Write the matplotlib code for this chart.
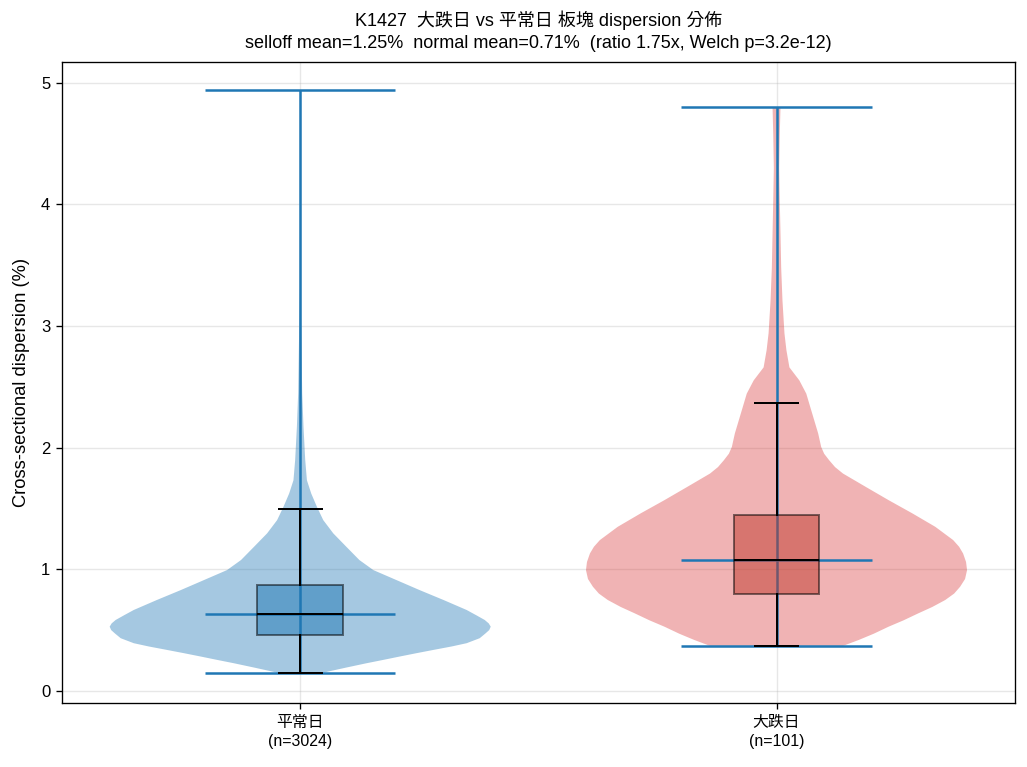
import numpy as np
import matplotlib
matplotlib.use("Agg")
import matplotlib.pyplot as plt

plt.rcParams["font.family"] = ["Liberation Sans", "Noto Sans CJK TC", "DejaVu Sans"]

# group labels
groups = ["平常日", "大跌日"]
counts = [3024, 101]

# violin outlines: y (%) and relative half-width
normal_y = [0.15, 0.19, 0.227, 0.255, 0.282, 0.31, 0.337, 0.365, 0.392, 0.433,
            0.474, 0.50, 0.528, 0.555, 0.583, 0.62, 0.665, 0.747, 0.829, 0.911,
            0.993, 1.076, 1.185, 1.295, 1.404, 1.513, 1.623, 1.732, 1.90, 2.17,
            2.45, 2.99, 3.30, 4.94]
normal_w = [23, 45, 66, 83, 99, 116, 133, 151, 166, 179,
            185, 188.5, 190, 188, 184, 176, 166, 143, 119, 96,
            73, 59, 46, 33, 23, 16.7, 11, 6.7, 5, 3.3,
            2, 1, 0.3, 0.0]
selloff_y = [0.37, 0.419, 0.47, 0.528, 0.58, 0.638, 0.69, 0.747, 0.80, 0.856,
             0.92, 0.993, 1.06, 1.130, 1.185, 1.240, 1.349, 1.459, 1.568, 1.677,
             1.787, 1.84, 1.897, 1.95, 2.006, 2.116, 2.225, 2.334, 2.444, 2.553,
             2.66, 2.80, 2.94, 3.21, 3.48, 3.76, 4.03, 4.30, 4.58, 4.80]
selloff_w = [67, 83, 98, 113, 128, 143, 157, 170, 179, 185,
             190, 192, 191, 188, 184, 178, 160, 137, 113, 90,
             67, 59, 53, 48, 45, 42, 38, 34, 30, 23,
             13, 10, 8, 6, 4.7, 4, 3.3, 2.7, 3.3, 4]

# summary stats
mins = [0.15, 0.37]
maxs = [4.94, 4.80]
medians = [0.632, 1.075]
means = [0.71, 1.25]
q1s = [0.46, 0.80]
q3s = [0.87, 1.445]
whis_lo = [0.15, 0.37]
whis_hi = [1.497, 2.364]

violin_colors = ["#1f77b4", "#d62728"]
box_colors = ["#1f77b4", "#c0392b"]
positions = [1, 2]

vpstats = []
for yy, ww, i in [(normal_y, normal_w, 0), (selloff_y, selloff_w, 1)]:
    vpstats.append(dict(coords=np.array(yy), vals=np.array(ww, dtype=float),
                        mean=means[i], median=medians[i], min=mins[i], max=maxs[i]))

fig = plt.figure(figsize=(1027 / 120, 767 / 120), dpi=120)
ax = fig.add_axes([0.0604, 0.0834, 0.9276, 0.8356])

parts = ax.violin(vpstats, positions=positions, widths=0.8, showmedians=True)
alphas = [0.4, 0.35]
for body, c, a in zip(parts["bodies"], violin_colors, alphas):
    body.set_facecolor(c)
    body.set_edgecolor("none")
    body.set_alpha(a)
for key in ["cbars", "cmins", "cmaxes", "cmedians"]:
    parts[key].set_color("#1f77b4")
    parts[key].set_linewidth(1.5)

bstats = []
for i in range(2):
    bstats.append(dict(med=medians[i], q1=q1s[i], q3=q3s[i],
                       whislo=whis_lo[i], whishi=whis_hi[i], fliers=[]))
bp = ax.bxp(bstats, positions=positions, widths=0.18, patch_artist=True,
            showfliers=False, manage_ticks=False,
            medianprops=dict(color="black", linewidth=1.2),
            whiskerprops=dict(color="black", linewidth=1.2),
            capprops=dict(color="black", linewidth=1.2))
for box, c in zip(bp["boxes"], box_colors):
    box.set_facecolor(matplotlib.colors.to_rgba(c, 0.5))
    box.set_edgecolor((0, 0, 0, 0.5))
    box.set_linewidth(1.2)

ax.set_xticks(positions)
ax.set_xticklabels([f"{g}\n(n={n})" for g, n in zip(groups, counts)],
                   linespacing=1.4)
ax.set_xlim(0.5, 2.5)
ax.set_ylim(-0.1, 5.17)
ax.set_ylabel("Cross-sectional dispersion (%)", fontsize=11, labelpad=6.5)
ax.tick_params(axis="y", labelsize=10)
ax.tick_params(axis="x", labelsize=9.5)
ax.grid(alpha=0.3)
ax.set_axisbelow(True)
ax.set_title("K1427  大跌日 vs 平常日 板塊 dispersion 分佈\n"
             "selloff mean=1.25%  normal mean=0.71%  (ratio 1.75x, Welch p=3.2e-12)",
             fontsize=10.8, linespacing=1.35, pad=8.5)

fig.savefig("out.png", dpi=120)
